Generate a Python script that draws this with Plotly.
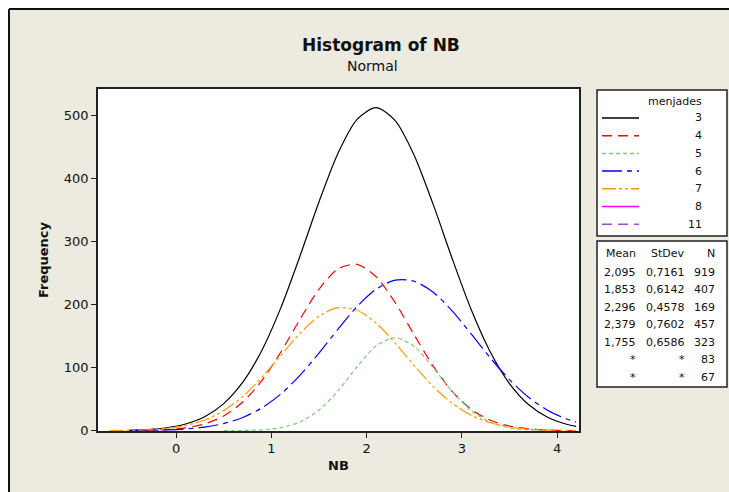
import plotly.graph_objects as go

X = [-0.7, -0.5, -0.3, -0.1, 0.1, 0.3, 0.5, 0.7, 0.9, 1.1, 1.3, 1.5, 1.7,
     1.9, 2.1, 2.3, 2.5, 2.7, 2.9, 3.1, 3.3, 3.5, 3.7, 3.9, 4.1, 4.2]

# fitted normal curves per menjades group (frequency)
freq_3 = [None, 0.7, 1.9, 4.7, 10.6, 22.1, 42.9, 76.8, 127.2, 195.0, 276.4, 362.5, 439.8,
          493.4, 512.0, 491.4, 436.3, 358.3, 272.2, 191.2, 124.3, 74.7, 41.5, 21.4, 10.2, 6.8]
freq_4 = [None, 0.2, 0.6, 1.7, 4.5, 10.8, 23.4, 45.4, 79.3, 124.7, 176.3, 224.1, 256.3,
          263.6, 243.9, 202.9, 151.8, 102.2, 61.8, 33.7, 16.5, 7.3, 2.9, 1.0, 0.3, 0.2]
freq_5 = [None, None, None, None, None, None, 0.1, 0.3, 1.4, 4.9, 13.8, 32.5, 63.1,
          101.3, 134.4, 147.3, 133.4, 99.8, 61.7, 31.5, 13.3, 4.6, 1.3, 0.3, None, None]
freq_6 = [None, 0.2, 0.5, 1.2, 2.7, 5.7, 11.3, 20.9, 36.1, 58.2, 87.6, 122.9, 160.9,
          196.6, 224.2, 238.5, 236.8, 219.3, 189.6, 152.9, 115.1, 80.9, 53.0, 32.4, 18.5, 13.6]
freq_7 = [0.2, 0.6, 1.5, 3.7, 8.3, 17.0, 31.8, 54.2, 84.2, 119.3, 154.1, 181.5, 194.9,
          190.9, 170.5, 138.9, 103.2, 69.9, 43.2, 24.3, 12.5, 5.9, 2.5, 1.0, 0.4, 0.2]

groups = ["3", "4", "5", "6", "7", "8", "11"]
means = ["2,095", "1,853", "2,296", "2,379", "1,755", "*", "*"]
stdevs = ["0,7161", "0,6142", "0,4578", "0,7602", "0,6586", "*", "*"]
counts = ["919", "407", "169", "457", "323", "83", "67"]

colors = ["#000000", "#FF0000", "#77CC77", "#0000FF", "#FF9900", "#FF00FF", "#9B4FD9"]
dashes = ["solid", "10px,6px", "4px,3px", "20px,5px,5px,5px",
          "14px,3px,3px,3px,3px,3px", "solid", "10px,6px"]

BEIGE = "#EDEAE0"
W_PX, H_PX = 729, 492
L, R, T, B = 98, 150, 89, 61
PW, PH = W_PX - L - R, H_PX - T - B


def px(x):
    return (x - L) / PW


def py(y):
    return (H_PX - B - y) / PH


fig = go.Figure()

curves = [freq_3, freq_4, freq_5, freq_6, freq_7]
for g, ys, c, d in zip(groups, curves, colors, dashes):
    fig.add_trace(go.Scatter(x=X, y=ys, mode="lines", name=g,
                             line=dict(color=c, width=1.2, dash=d, shape="spline", smoothing=0.8),
                             showlegend=False, hoverinfo="skip"))

shapes = []
ann = []

# outer frame: white strip top/left + dark border
shapes.append(dict(type="rect", xref="paper", yref="paper", x0=px(0), x1=px(9), y0=py(H_PX + 10), y1=py(0),
                   fillcolor="white", line=dict(width=0)))
shapes.append(dict(type="rect", xref="paper", yref="paper", x0=px(0), x1=px(W_PX), y0=py(9), y1=py(0),
                   fillcolor="white", line=dict(width=0)))
shapes.append(dict(type="line", xref="paper", yref="paper", x0=px(9), x1=px(9), y0=py(9), y1=py(H_PX + 10),
                   line=dict(color="#111", width=2)))
shapes.append(dict(type="line", xref="paper", yref="paper", x0=px(9), x1=px(W_PX), y0=py(9), y1=py(9),
                   line=dict(color="#111", width=2)))

# legend box and stats box
for top, bot in [(90, 236), (241, 387)]:
    shapes.append(dict(type="rect", xref="paper", yref="paper", x0=px(597), x1=px(727), y0=py(bot), y1=py(top),
                       fillcolor="white", line=dict(color="#222", width=1.5)))

small = dict(family="DejaVu Sans", size=11, color="#111")
ann.append(dict(x=px(704), y=py(102), xref="paper", yref="paper", text="menjades", showarrow=False,
                xanchor="right", yanchor="middle", font=small))
for i, g in enumerate(groups):
    yy = 118 + i * 17.7
    shapes.append(dict(type="line", xref="paper", yref="paper", x0=px(602), x1=px(639), y0=py(yy), y1=py(yy),
                       line=dict(color=colors[i], width=1.5, dash=dashes[i])))
    ann.append(dict(x=px(704), y=py(yy), xref="paper", yref="paper", text=g, showarrow=False,
                    xanchor="right", yanchor="middle", font=small))

heads = [("Mean", 638), ("StDev", 687), ("N", 717)]
for h, xr in heads:
    ann.append(dict(x=px(xr), y=py(254), xref="paper", yref="paper", text=h, showarrow=False,
                    xanchor="right", yanchor="middle", font=small))
for i in range(len(groups)):
    yy = 272 + i * 17.5
    for val, (h, xr) in zip([means[i], stdevs[i], counts[i]], heads):
        ann.append(dict(x=px(xr), y=py(yy), xref="paper", yref="paper", text=val, showarrow=False,
                        xanchor="right", yanchor="middle", font=small))

# titles
ann.append(dict(x=px(381), y=py(45), xref="paper", yref="paper", text="<b>Histogram of NB</b>", showarrow=False,
                xanchor="center", yanchor="middle", font=dict(family="DejaVu Sans", size=17, color="#111")))
ann.append(dict(x=px(372), y=py(66), xref="paper", yref="paper", text="Normal", showarrow=False,
                xanchor="center", yanchor="middle", font=dict(family="DejaVu Sans", size=14, color="#111")))

axis_common = dict(showgrid=False, zeroline=False, showline=True, mirror=True, linecolor="#222", linewidth=1.5,
                   ticks="outside", ticklen=5, tickcolor="#222", tickfont=dict(family="DejaVu Sans", size=13, color="#111"))

fig.update_layout(
    width=W_PX, height=H_PX,
    margin=dict(l=L, r=R, t=T, b=B),
    paper_bgcolor=BEIGE, plot_bgcolor="white",
    font=dict(family="DejaVu Sans", color="#111"),
    showlegend=False,
    shapes=shapes, annotations=ann,
    xaxis=dict(range=[-0.82, 4.23], tickvals=[0, 1, 2, 3, 4],
               title=dict(text="<b>NB</b>", font=dict(size=13), standoff=6), **axis_common),
    yaxis=dict(range=[-0.5, 541.5], tickvals=[0, 100, 200, 300, 400, 500],
               title=dict(text="<b>Frequency</b>", font=dict(size=13), standoff=12), **axis_common),
)

# page body has a default margin; drop it so the figure fills the window
fig.write_html("out.html", config={"displayModeBar": False},
               post_script="document.body.style.margin='0';document.body.style.overflow='hidden';"
                           "document.body.style.background='" + BEIGE + "';"
                           "document.documentElement.style.background='" + BEIGE + "';")
